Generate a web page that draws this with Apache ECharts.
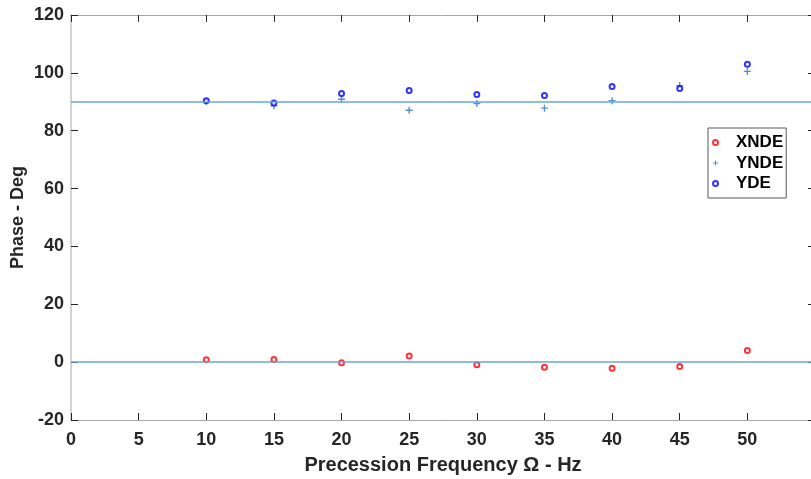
<!DOCTYPE html>
<html>
<head>
<meta charset="utf-8">
<script src="https://cdn.jsdelivr.net/npm/echarts@6/dist/echarts.min.js"></script>
<style>
html,body{margin:0;padding:0;background:#fff;}
#chart{width:811px;height:479px;}
</style>
</head>
<body>
<div id="chart"></div>
<script>
var freqs = [10, 15, 20, 25, 30, 35, 40, 45, 50];
var xnde = [0.8, 0.9, -0.2, 2.1, -0.9, -1.8, -2.1, -1.5, 4.0];
var ynde = [90.1, 88.6, 90.9, 87.1, 89.4, 87.8, 90.4, 95.6, 100.5];
var yde = [90.4, 89.6, 92.9, 93.9, 92.5, 92.2, 95.3, 94.6, 103.0];
var refLines = [0, 90];
var xTicks = [0, 5, 10, 15, 20, 25, 30, 35, 40, 45, 50];
var yTicks = [-20, 0, 20, 40, 60, 80, 100, 120];

function pairs(vals) { return freqs.map(function (f, i) { return [f, vals[i]]; }); }

var FONT = "'Liberation Sans', Arial, Helvetica, sans-serif";
var plusPath = 'path://M-1,-0.2L-0.2,-0.2L-0.2,-1L0.2,-1L0.2,-0.2L1,-0.2L1,0.2L0.2,0.2L0.2,1L-0.2,1L-0.2,0.2L-1,0.2Z';
var tickStyle = {show: true, inside: true, length: 7, lineStyle: {color: '#262626', width: 1}};

var chart = echarts.init(document.getElementById('chart'), null, {renderer: 'canvas'});
chart.setOption({
  animation: false,
  backgroundColor: '#ffffff',
  grid: {left: 71, right: -4, top: 15, bottom: 59, containLabel: false, outerBoundsMode: 'none'},
  xAxis: [{
    type: 'value', min: 0, max: 55, interval: 5,
    name: 'Precession Frequency \u03A9 - Hz', nameLocation: 'middle', nameGap: 35,
    nameTextStyle: {fontFamily: FONT, fontWeight: 'bold', fontSize: 20, color: '#262626'},
    axisLine: {show: true, onZero: false, lineStyle: {color: '#a6a6a6', width: 1}},
    axisTick: tickStyle,
    axisLabel: {show: true, showMaxLabel: false, margin: 11, fontFamily: FONT, fontWeight: 'bold', fontSize: 18, color: '#262626'},
    splitLine: {show: false}
  }, {
    type: 'value', min: 0, max: 55, interval: 5, position: 'top',
    axisLine: {show: true, onZero: false, lineStyle: {color: '#a6a6a6', width: 1}},
    axisTick: tickStyle, axisLabel: {show: false}, splitLine: {show: false}
  }],
  yAxis: [{
    type: 'value', min: -20, max: 120, interval: 20,
    name: 'Phase - Deg', nameLocation: 'middle', nameGap: 44, nameRotate: 90, nameMoveOverlap: false,
    nameTextStyle: {fontFamily: FONT, fontWeight: 'bold', fontSize: 18, color: '#262626'},
    axisLine: {show: true, onZero: false, lineStyle: {color: '#d4d4d4', width: 2}},
    axisTick: tickStyle,
    axisLabel: {show: true, margin: 7, fontFamily: FONT, fontWeight: 'bold', fontSize: 18, color: '#262626'},
    splitLine: {show: false}
  }, {
    type: 'value', min: -20, max: 120, interval: 20, position: 'right',
    axisLine: {show: true, onZero: false, lineStyle: {color: '#a6a6a6', width: 1}},
    axisTick: tickStyle, axisLabel: {show: false}, splitLine: {show: false}
  }],
  legend: {
    orient: 'vertical', left: 708, top: 128,
    data: ['XNDE', 'YNDE', 'YDE'],
    backgroundColor: '#ffffff', borderColor: '#595959', borderWidth: 1,
    padding: [6, 3, 6, 4], itemGap: 3.5, itemWidth: 5, itemHeight: 5,
    textStyle: {fontFamily: FONT, fontWeight: 'bold', fontSize: 17, color: '#000', lineHeight: 17, padding: [0, 0, 0, 13]}
  },
  series: [{
    name: 'ref', type: 'scatter', data: [], silent: true,
    markLine: {
      silent: true, symbol: ['none', 'none'], label: {show: false},
      lineStyle: {color: '#6aa6dc', width: 1.5, type: 'solid'},
      data: refLines.map(function (v) { return {yAxis: v}; })
    }
  }, {
    name: 'XNDE', type: 'scatter', data: pairs(xnde),
    symbol: 'emptyCircle', symbolSize: 5,
    itemStyle: {color: '#ff0000', borderColor: '#ff0000', borderWidth: 1}
  }, {
    name: 'YNDE', type: 'scatter', data: pairs(ynde),
    symbol: plusPath, symbolSize: 7,
    itemStyle: {color: '#2a74b8'}
  }, {
    name: 'YDE', type: 'scatter', data: pairs(yde),
    symbol: 'emptyCircle', symbolSize: 5,
    itemStyle: {color: '#0000ff', borderColor: '#0000ff', borderWidth: 1}
  }]
});
</script>
</body>
</html>
